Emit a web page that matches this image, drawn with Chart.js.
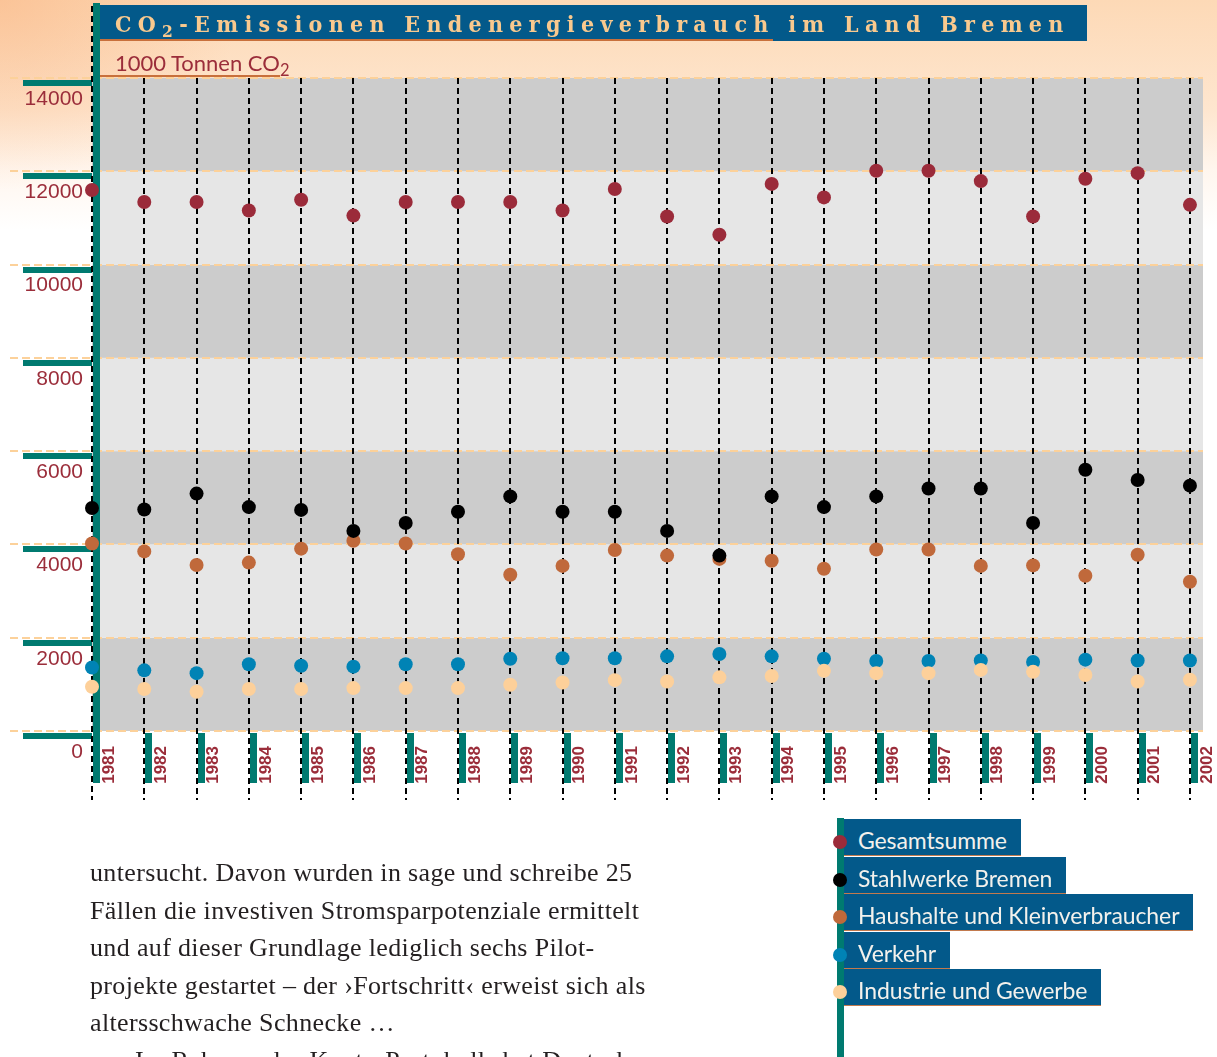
<!DOCTYPE html>
<html lang="de">
<head>
<meta charset="utf-8">
<title>CO2-Emissionen Endenergieverbrauch im Land Bremen</title>
<script src="https://cdn.jsdelivr.net/npm/chart.js@4.4.1/dist/chart.umd.min.js"></script>
<style>
    html, body {
        margin: 0;
        padding: 0;
        width: 1217px;
        height: 1057px;
        overflow: hidden;
    }
    body {
        position: relative;
        background:
            radial-gradient(ellipse 240px 190px at 0 0, rgba(248, 170, 115, 0.45), rgba(248, 170, 115, 0)),
            linear-gradient(to bottom, #fdd9b6 0px, #fee6cf 110px, #fff6ee 170px, #ffffff 230px);
    }
    #chart {
        position: absolute;
        left: 0;
        top: 0;
    }
    #title {
        position: absolute;
        left: 100px;
        top: 5px;
        width: 987px;
        height: 36px;
        background: #03598a;
    }
    #title span {
        position: absolute;
        left: 15px;
        top: 5px;
        font-family: "DejaVu Serif Condensed", "DejaVu Serif", serif;
        font-weight: bold;
        font-size: 23px;
        letter-spacing: 6.3px;
        color: #f9c98e;
        white-space: nowrap;
    }
    #title sub, #subtitle sub {
        font-size: 0.75em;
        vertical-align: -0.3em;
        line-height: 0;
    }
    #titleLine {
        position: absolute;
        left: 100px;
        top: 39px;
        width: 673px;
        height: 2px;
        background: #c8703c;
    }
    #subtitle {
        position: absolute;
        left: 115px;
        top: 49px;
        font-family: Lato, "Open Sans", sans-serif;
        font-size: 22px;
        color: #9b2d3a;
        white-space: nowrap;
    }
    #subLine {
        position: absolute;
        left: 100px;
        top: 75px;
        width: 180px;
        height: 2px;
        background: #c8703c;
    }
    #legendBar {
        position: absolute;
        left: 837px;
        top: 818px;
        width: 7px;
        height: 240px;
        background: #007a70;
    }
    #legend {
        position: absolute;
        left: 832px;
        top: 819px;
    }
    .item {
        position: relative;
        height: 37.5px;
    }
    .item .dot {
        position: absolute;
        left: 1px;
        top: 16px;
        width: 14px;
        height: 14px;
        border-radius: 50%;
    }
    .item .box {
        position: absolute;
        left: 12px;
        top: 0;
        height: 36px;
        padding: 0 14px 0 14px;
        background: #03598a;
        border-bottom: 1.5px solid #c27a4e;
        color: #f3f1ec;
        font-family: Lato, "Open Sans", sans-serif;
        font-size: 23px;
        letter-spacing: -0.1px;
        line-height: 42px;
        white-space: nowrap;
    }
    #text {
        position: absolute;
        left: 90px;
        top: 854px;
        font-family: "Liberation Serif", serif;
        font-size: 26px;
        letter-spacing: 0.35px;
        line-height: 37.5px;
        color: #231f20;
        white-space: nowrap;
    }
</style>
</head>
<body>
<canvas id="chart" width="1217" height="1057"></canvas>
<div id="title"><span>CO<sub>2</sub>-Emissionen Endenergieverbrauch im Land Bremen</span></div>
<div id="titleLine"></div>
<div id="subtitle">1000 Tonnen CO<sub>2</sub></div>
<div id="subLine"></div>
<div id="legendBar"></div>
<div id="legend"></div>
<div id="text">
    untersucht. Davon wurden in sage und schreibe 25<br>
    Fällen die investiven Stromsparpotenziale ermittelt<br>
    und auf dieser Grundlage lediglich sechs Pilot-<br>
    projekte gestartet – der ›Fortschritt‹ erweist sich als<br>
    altersschwache Schnecke …<br>
    <span style="padding-left: 45px">Im Rahmen des Kyoto-Protokolls hat Deutsch-</span>
</div>
<script>
const years = [1981, 1982, 1983, 1984, 1985, 1986, 1987, 1988, 1989, 1990, 1991,
    1992, 1993, 1994, 1995, 1996, 1997, 1998, 1999, 2000, 2001, 2002];

const gesamtsumme = [11600, 11340, 11340, 11160, 11390, 11050, 11340, 11340, 11340, 11160, 11620,
    11030, 10640, 11730, 11440, 12010, 12010, 11790, 11030, 11840, 11960, 11280];
const stahlwerke = [4780, 4750, 5090, 4800, 4740, 4290, 4460, 4700, 5030, 4700, 4700,
    4290, 3760, 5030, 4800, 5030, 5200, 5200, 4460, 5600, 5380, 5260];
const haushalte = [4020, 3850, 3560, 3610, 3910, 4080, 4020, 3790, 3350, 3540, 3880,
    3760, 3690, 3650, 3480, 3890, 3890, 3540, 3550, 3330, 3780, 3200];
const verkehr = [1360, 1300, 1240, 1430, 1400, 1380, 1430, 1430, 1550, 1560, 1560,
    1600, 1650, 1600, 1550, 1500, 1500, 1510, 1480, 1530, 1510, 1510];
const industrie = [950, 900, 840, 900, 900, 920, 920, 920, 990, 1040, 1090,
    1060, 1150, 1180, 1290, 1240, 1240, 1310, 1270, 1200, 1060, 1100];

const yTicks = [0, 2000, 4000, 6000, 8000, 10000, 12000, 14000];

const seriesNames = ["Gesamtsumme", "Stahlwerke Bremen", "Haushalte und Kleinverbraucher", "Verkehr", "Industrie und Gewerbe"];
const seriesColors = ["#9b2b3a", "#000000", "#c0693b", "#0083b5", "#fdd09a"];
const seriesValues = [gesamtsumme, stahlwerke, haushalte, verkehr, industrie];
// draw order: peach over blue, black over orange
const seriesOrder = [0, 1, 2, 4, 3];

const teal = "#007a70";
const darkRed = "#9b2d3a";

// bands, dashed lines and the teal bars
const backdrop = {
    id: "backdrop",
    beforeDraw(chart) {
        const { ctx, chartArea, scales } = chart;
        const x = scales.x;
        const y = scales.y;
        ctx.save();

        for (let i = 0; i < yTicks.length - 1; i++) {
            const top = y.getPixelForValue(yTicks[i + 1]);
            const bottom = y.getPixelForValue(yTicks[i]);
            ctx.fillStyle = i % 2 === 0 ? "#cccccc" : "#e6e6e6";
            ctx.fillRect(chartArea.left, top, chartArea.right - chartArea.left, bottom - top);
        }

        ctx.strokeStyle = "#fcd19a";
        ctx.lineWidth = 2;
        ctx.setLineDash([8, 4]);
        yTicks.forEach((t) => {
            const py = Math.round(y.getPixelForValue(t));
            ctx.beginPath();
            ctx.moveTo(10, py);
            ctx.lineTo(chartArea.right, py);
            ctx.stroke();
        });

        ctx.fillStyle = teal;
        yTicks.forEach((t) => {
            const py = Math.round(y.getPixelForValue(t));
            ctx.fillRect(23, py + 2, chartArea.left - 23, 6);
        });

        ctx.strokeStyle = "#000000";
        ctx.setLineDash([6, 4]);
        years.forEach((yr, i) => {
            const px = Math.round(x.getPixelForValue(yr));
            ctx.beginPath();
            ctx.moveTo(px, i === 0 ? 6 : chartArea.top);
            ctx.lineTo(px, 800);
            ctx.stroke();
        });
        ctx.setLineDash([]);

        ctx.fillStyle = teal;
        ctx.fillRect(chartArea.left + 1, 3, 7, 780);
        years.forEach((yr) => {
            const px = Math.round(x.getPixelForValue(yr));
            ctx.fillRect(px + 1, chartArea.bottom + 2, 7, 783 - chartArea.bottom - 2);
        });

        ctx.restore();
    },
};

const datasets = seriesNames.map((name, i) => ({
    label: name,
    data: years.map((yr, j) => ({ x: yr, y: seriesValues[i][j] })),
    backgroundColor: seriesColors[i],
    borderWidth: 0,
    pointRadius: 7,
    pointHoverRadius: 7,
    order: seriesOrder[i],
    clip: false,
}));

new Chart(document.getElementById("chart"), {
    type: "scatter",
    data: { datasets: datasets },
    options: {
        responsive: false,
        animation: false,
        layout: {
            padding: { top: 78, right: 14, bottom: 0, left: 0 },
        },
        plugins: {
            legend: { display: false },
            tooltip: { enabled: false },
        },
        scales: {
            x: {
                type: "linear",
                min: 1981,
                max: 2002.25,
                grid: { display: false },
                border: { display: false },
                ticks: {
                    autoSkip: false,
                    minRotation: 90,
                    maxRotation: 90,
                    padding: 7,
                    labelOffset: 17,
                    color: darkRed,
                    font: { family: "Liberation Sans", size: 17, weight: "bold" },
                    callback: (v) => String(v),
                },
                afterBuildTicks: (scale) => {
                    scale.ticks = years.map((v) => ({ value: v }));
                },
                afterFit: (scale) => {
                    scale.height = 1057 - 731;
                    scale.paddingLeft = 0;
                    scale.paddingRight = 0;
                },
            },
            y: {
                min: 0,
                max: 14000,
                grid: { display: false },
                border: { display: false },
                ticks: {
                    stepSize: 2000,
                    padding: 1,
                    labelOffset: 21,
                    color: darkRed,
                    font: { family: "Liberation Sans", size: 21 },
                    callback: (v) => String(v),
                },
                afterFit: (scale) => {
                    scale.width = 92;
                    scale.paddingTop = 0;
                    scale.paddingBottom = 0;
                },
            },
        },
    },
    plugins: [backdrop],
});

// legend in the page, built from the series lists
const legend = document.getElementById("legend");
seriesNames.forEach((name, i) => {
    const item = document.createElement("div");
    item.className = "item";
    item.innerHTML = '<div class="box">' + name + '</div><div class="dot" style="background:' + seriesColors[i] + '"></div>';
    legend.appendChild(item);
});
</script>
</body>
</html>
